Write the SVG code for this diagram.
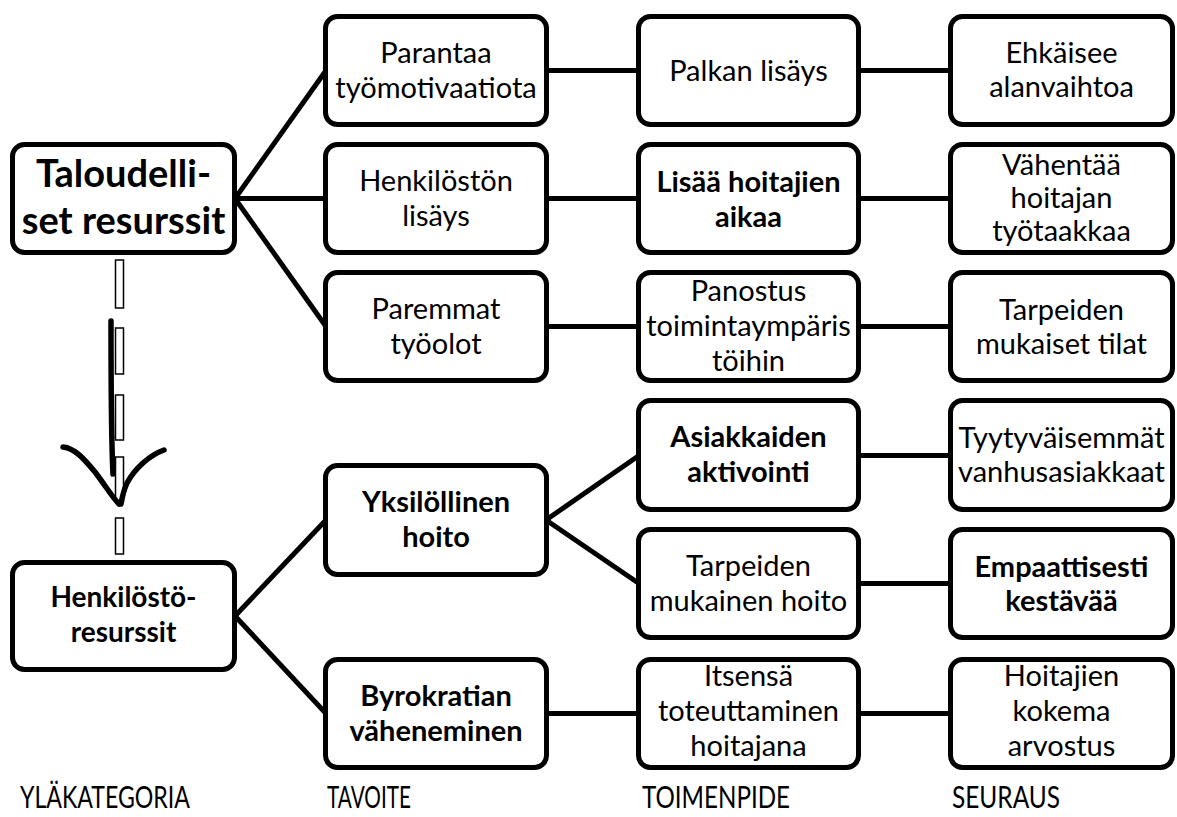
<svg xmlns="http://www.w3.org/2000/svg" width="1177" height="817" viewBox="0 0 1177 817">
<style>
.box{fill:#fff;stroke:#000;stroke-width:5}
.conn line{stroke:#000;stroke-width:5}
.t{font-family:Lato,"Liberation Sans",sans-serif;font-size:29px;text-anchor:middle;fill:#000}
.b{font-weight:bold}
.lbl{font-family:Lato,"Liberation Sans",sans-serif;font-size:31px;fill:#000}
.dash{fill:#fff;stroke:#000;stroke-width:1.5}
.hand{fill:none;stroke:#000;stroke-width:5.5;stroke-linecap:round;stroke-linejoin:round}
</style>
<rect width="1177" height="817" fill="#fff"/>
<g id="connectors" class="conn">
<line x1="235" y1="198.5" x2="326" y2="70.5"/>
<line x1="235" y1="198.5" x2="326" y2="198.5"/>
<line x1="235" y1="198.5" x2="326" y2="326.5"/>
<line x1="546" y1="70.5" x2="639" y2="70.5"/>
<line x1="546" y1="198.5" x2="639" y2="198.5"/>
<line x1="546" y1="326.5" x2="639" y2="326.5"/>
<line x1="858" y1="70.5" x2="951" y2="70.5"/>
<line x1="858" y1="198.5" x2="951" y2="198.5"/>
<line x1="858" y1="326.5" x2="951" y2="326.5"/>
<line x1="235" y1="616" x2="326" y2="520"/>
<line x1="235" y1="616" x2="326" y2="713.5"/>
<line x1="546" y1="520" x2="639" y2="455.5"/>
<line x1="546" y1="520" x2="639" y2="583.5"/>
<line x1="546" y1="713.5" x2="639" y2="713.5"/>
<line x1="858" y1="455.5" x2="951" y2="455.5"/>
<line x1="858" y1="583.5" x2="951" y2="583.5"/>
<line x1="858" y1="713.5" x2="951" y2="713.5"/>
</g>
<g id="transition">
<rect class="dash" x="115.5" y="260" width="8" height="48"/>
<rect class="dash" x="115.5" y="328" width="8" height="46"/>
<rect class="dash" x="115.5" y="395" width="8" height="45"/>
<rect class="dash" x="115.5" y="457" width="8" height="44"/>
<rect class="dash" x="115.5" y="518" width="8" height="36"/>
<path class="hand" d="M111,321 C111,380 111,435 113,474"/>
<path class="hand" d="M63,447 C75,448 85,460 95,472 C105,485 112,497 119,504"/>
<path class="hand" d="M164,450 C150,455 135,468 127,483 C123,492 122,498 121,504"/>
</g>
<g id="n-taloudelliset">
<rect class="box" x="12.5" y="144.5" width="222" height="108" rx="12"/>
<text class="t b" x="123.5" y="187" style="font-size:38px">Taloudelli-</text>
<text class="t b" x="123.5" y="234" style="font-size:38px">set resurssit</text>
</g>
<g id="n-henkilostoresurssit">
<rect class="box" x="12.5" y="562.5" width="222" height="107" rx="12"/>
<text class="t b" x="123.5" y="607" style="font-size:28px">Henkilöstö-</text>
<text class="t b" x="123.5" y="642" style="font-size:28px">resurssit</text>
</g>
<g id="n-parantaa">
<rect class="box" x="325.5" y="16.5" width="221" height="108" rx="12"/>
<text class="t" x="436" y="63">Parantaa</text>
<text class="t" x="436" y="97.5">työmotivaatiota</text>
</g>
<g id="n-henkiloston-lisays">
<rect class="box" x="325.5" y="144.5" width="221" height="108" rx="12"/>
<text class="t" x="436" y="191">Henkilöstön</text>
<text class="t" x="436" y="225.5">lisäys</text>
</g>
<g id="n-paremmat">
<rect class="box" x="325.5" y="272.5" width="221" height="108" rx="12"/>
<text class="t" x="436" y="319">Paremmat</text>
<text class="t" x="436" y="353.5">työolot</text>
</g>
<g id="n-yksilollinen">
<rect class="box" x="325.5" y="465.5" width="221" height="109" rx="12"/>
<text class="t b" x="436" y="512">Yksilöllinen</text>
<text class="t b" x="436" y="547">hoito</text>
</g>
<g id="n-byrokratian">
<rect class="box" x="325.5" y="659.5" width="221" height="108" rx="12"/>
<text class="t b" x="436" y="706">Byrokratian</text>
<text class="t b" x="436" y="741">väheneminen</text>
</g>
<g id="n-palkan">
<rect class="box" x="638.5" y="16.5" width="220" height="108" rx="12"/>
<text class="t" x="748.5" y="80.5">Palkan lisäys</text>
</g>
<g id="n-lisaa-aikaa">
<rect class="box" x="638.5" y="144.5" width="220" height="108" rx="12"/>
<text class="t b" x="748.5" y="192">Lisää hoitajien</text>
<text class="t b" x="748.5" y="227">aikaa</text>
</g>
<g id="n-panostus">
<rect class="box" x="638.5" y="272.5" width="220" height="108" rx="12"/>
<text class="t" x="748.5" y="301">Panostus</text>
<text class="t" x="748.5" y="336">toimintaympäris</text>
<text class="t" x="748.5" y="371">töihin</text>
</g>
<g id="n-asiakkaiden">
<rect class="box" x="638.5" y="400.5" width="220" height="109" rx="12"/>
<text class="t b" x="748.5" y="447">Asiakkaiden</text>
<text class="t b" x="748.5" y="482">aktivointi</text>
</g>
<g id="n-tarpeiden-hoito">
<rect class="box" x="638.5" y="529.5" width="220" height="108" rx="12"/>
<text class="t" x="748.5" y="576">Tarpeiden</text>
<text class="t" x="748.5" y="610.5">mukainen hoito</text>
</g>
<g id="n-itsensa">
<rect class="box" x="638.5" y="659.5" width="220" height="108" rx="12"/>
<text class="t" x="748.5" y="686">Itsensä</text>
<text class="t" x="748.5" y="721">toteuttaminen</text>
<text class="t" x="748.5" y="756">hoitajana</text>
</g>
<g id="n-ehkaisee">
<rect class="box" x="950.5" y="16.5" width="222" height="108" rx="12"/>
<text class="t" x="1061.5" y="62.5">Ehkäisee</text>
<text class="t" x="1061.5" y="97">alanvaihtoa</text>
</g>
<g id="n-vahentaa">
<rect class="box" x="950.5" y="144.5" width="222" height="108" rx="12"/>
<text class="t" x="1061.5" y="175">Vähentää</text>
<text class="t" x="1061.5" y="208">hoitajan</text>
<text class="t" x="1061.5" y="241">työtaakkaa</text>
</g>
<g id="n-tarpeiden-tilat">
<rect class="box" x="950.5" y="272.5" width="222" height="108" rx="12"/>
<text class="t" x="1061.5" y="320">Tarpeiden</text>
<text class="t" x="1061.5" y="353.5">mukaiset tilat</text>
</g>
<g id="n-tyytyvaisemmat">
<rect class="box" x="950.5" y="400.5" width="222" height="109" rx="12"/>
<text class="t" x="1061.5" y="448">Tyytyväisemmät</text>
<text class="t" x="1061.5" y="482">vanhusasiakkaat</text>
</g>
<g id="n-empaattisesti">
<rect class="box" x="950.5" y="529.5" width="222" height="108" rx="12"/>
<text class="t b" x="1061.5" y="577">Empaattisesti</text>
<text class="t b" x="1061.5" y="610.5">kestävää</text>
</g>
<g id="n-hoitajien">
<rect class="box" x="950.5" y="659.5" width="222" height="108" rx="12"/>
<text class="t" x="1061.5" y="686">Hoitajien</text>
<text class="t" x="1061.5" y="721">kokema</text>
<text class="t" x="1061.5" y="756">arvostus</text>
</g>
<g id="labels">
<text class="lbl" x="20" y="808" textLength="170" lengthAdjust="spacingAndGlyphs">YLÄKATEGORIA</text>
<text class="lbl" x="327" y="808" textLength="84" lengthAdjust="spacingAndGlyphs">TAVOITE</text>
<text class="lbl" x="642" y="808" textLength="148" lengthAdjust="spacingAndGlyphs">TOIMENPIDE</text>
<text class="lbl" x="952" y="808" textLength="108" lengthAdjust="spacingAndGlyphs">SEURAUS</text>
</g>
</svg>
